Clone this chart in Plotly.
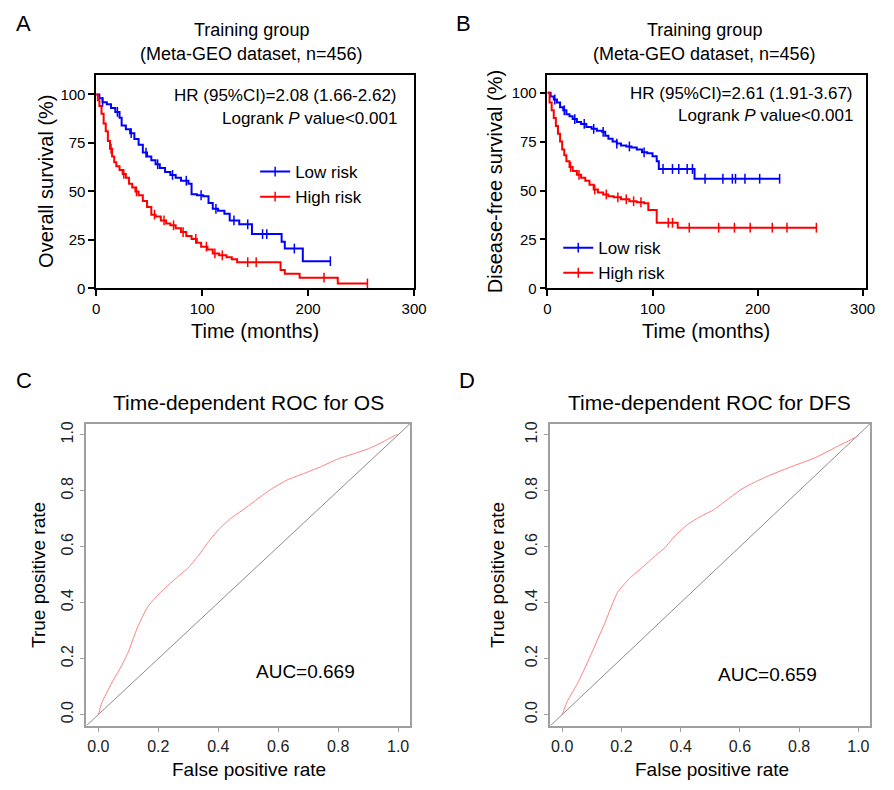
import numpy as np
import plotly.graph_objects as go

# ---------------- data ----------------
# Panel A: Overall survival (%), Meta-GEO training group
A_low_t = [0, 3, 6, 10, 14, 18, 22, 24, 28, 32, 36, 40, 44, 48, 52, 56, 60, 65, 70, 75, 80, 87, 90, 95, 101,
           106, 110, 115, 121, 126, 135, 147, 175, 178, 195, 221]
A_low_s = [100, 98, 96, 95, 93, 91, 88, 84, 82, 80, 77, 74, 70, 68, 66, 64, 62, 60, 58.5, 57, 55.5, 54, 48.5, 48, 47.5,
           44, 41, 40, 38.5, 35, 33, 28, 24, 20.5, 14, 14]
A_high_t = [0, 1.5, 3, 5, 7, 9, 11, 13, 15, 17, 19, 22, 25, 28, 31, 34, 37, 40, 44, 48, 52, 56, 61, 66, 70, 75,
            80, 85, 90, 95, 99, 105, 110, 116, 123, 128, 133, 174, 178, 192, 228, 256]
A_high_s = [100, 97, 94, 90, 85, 81, 76, 72, 68, 65, 63, 61, 59, 57, 54, 52, 50, 48, 45, 42, 38, 37, 35, 33.5, 32.5, 31,
            29, 27, 25.5, 23.5, 21.5, 20, 18, 17, 16, 15, 13.5, 9.5, 7.5, 5.5, 2.5, 2.5]
A_low_cens = [6, 20, 33, 47, 58, 72, 85, 99, 113, 130, 143, 157, 161, 187, 221]
A_high_cens = [14, 26, 38, 55, 64, 73, 82, 94, 104, 112, 119, 143, 151, 215, 256]

# Panel B: Disease-free survival (%)
B_low_t = [0, 3, 6, 9, 12, 15, 18, 21, 24, 28, 32, 37, 42, 47, 52, 55, 58, 62, 66, 70, 75, 80, 85, 90, 95, 100,
           104, 106, 140, 221]
B_low_s = [100, 98, 96.5, 95, 92.5, 91, 89, 88, 86.5, 85, 84, 82.5, 81.5, 80.5, 80, 78, 76.5, 75, 74, 73, 72.5, 72,
           71, 69.5, 69, 67.5, 65, 61, 56, 56]
B_high_t = [0, 2, 4, 6, 8, 10, 12, 14, 16, 18, 21, 24, 28, 32, 36, 40, 44, 48, 53, 58, 63, 70, 78, 85, 92, 96, 104,
            124, 256]
B_high_s = [100, 95, 91, 87, 83, 79, 75, 71, 68, 65, 62, 60, 58, 56.5, 55, 53, 50.5, 49, 48, 47, 46.5, 45.5, 44.5,
            44, 43.5, 40, 33.5, 31, 31]
B_low_cens = [7, 16, 26, 35, 44, 53, 66, 78, 92, 110, 119, 125, 133, 138, 150, 167, 176, 179, 188, 202, 221]
B_high_cens = [22, 30, 45, 56, 67, 75, 82, 89, 115, 119, 135, 163, 178, 193, 214, 228, 256]

# Panel C / D: time-dependent ROC
C_fpr = [0, 0.011, 0.044, 0.075, 0.098, 0.131, 0.164, 0.202, 0.262, 0.30, 0.335, 0.365, 0.40, 0.44, 0.48,
         0.52, 0.577, 0.633, 0.689, 0.74, 0.80, 0.86, 0.905, 0.95, 0.99, 1.0]
C_tpr = [0, 0.041, 0.112, 0.17, 0.219, 0.313, 0.384, 0.431, 0.49, 0.525, 0.57, 0.615, 0.66, 0.70, 0.73,
         0.762, 0.806, 0.84, 0.863, 0.885, 0.914, 0.935, 0.952, 0.975, 0.998, 1.0]
D_fpr = [0, 0.017, 0.055, 0.099, 0.143, 0.187, 0.226, 0.27, 0.314, 0.347, 0.38, 0.424, 0.469, 0.513, 0.557,
         0.612, 0.689, 0.766, 0.854, 0.93, 0.997, 1.0]
D_tpr = [0, 0.047, 0.118, 0.219, 0.325, 0.437, 0.485, 0.526, 0.567, 0.597, 0.638, 0.68, 0.709, 0.733, 0.768,
         0.81, 0.85, 0.883, 0.918, 0.959, 0.995, 1.0]
roc_diag = [-0.04, 1.04]

km_ticks = [0, 25, 50, 75, 100]
time_ticks = [0, 100, 200, 300]
roc_ticks = [0, 0.2, 0.4, 0.6, 0.8, 1.0]
roc_ticklabels = ["0.0", "0.2", "0.4", "0.6", "0.8", "1.0"]

# ---------------- layout helpers ----------------
W, H = 894, 790
FONT = "Liberation Sans, Arial, Helvetica, sans-serif"
BLUE = "#0000FF"
RED = "#FF0000"


def px(x):
    return x / W


def py(y):
    return 1 - y / H


def km_at(times, surv, ct):
    idx = np.searchsorted(np.asarray(times), np.asarray(ct), side="right") - 1
    return np.asarray(surv)[idx]


fig = go.Figure()


def add_km(t, s, cens, color, name, xa, ya, legend):
    fig.add_trace(go.Scatter(x=t, y=s, mode="lines", line=dict(color=color, width=2, shape="hv"),
                             xaxis=xa, yaxis=ya, showlegend=False, hoverinfo="skip", cliponaxis=False))
    fig.add_trace(go.Scatter(x=cens, y=km_at(t, s, cens), mode="markers",
                             marker=dict(symbol="line-ns", size=7, line=dict(color=color, width=1.5)),
                             xaxis=xa, yaxis=ya, showlegend=False, hoverinfo="skip", cliponaxis=False))
    fig.add_trace(go.Scatter(x=[None], y=[None], mode="lines+markers", name=name,
                             line=dict(color=color, width=2),
                             marker=dict(symbol="line-ns", size=7, line=dict(color=color, width=1.5)),
                             xaxis=xa, yaxis=ya, showlegend=True, legend=legend))


add_km(A_low_t, A_low_s, A_low_cens, BLUE, "Low risk", "x", "y", "legend")
add_km(A_high_t, A_high_s, A_high_cens, RED, "High risk", "x", "y", "legend")
add_km(B_low_t, B_low_s, B_low_cens, BLUE, "Low risk", "x2", "y2", "legend2")
add_km(B_high_t, B_high_s, B_high_cens, RED, "High risk", "x2", "y2", "legend2")

for fpr, tpr, xa, ya in [(C_fpr, C_tpr, "x3", "y3"), (D_fpr, D_tpr, "x4", "y4")]:
    fig.add_trace(go.Scatter(x=roc_diag, y=roc_diag, mode="lines", line=dict(color="#8c8c8c", width=1),
                             xaxis=xa, yaxis=ya, showlegend=False, hoverinfo="skip"))
    fig.add_trace(go.Scatter(x=fpr, y=tpr, mode="lines",
                             line=dict(color="#FF8080", width=1, shape="spline", smoothing=0.5),
                             xaxis=xa, yaxis=ya, showlegend=False, hoverinfo="skip"))

km_axis = dict(showline=True, linecolor="black", linewidth=1.5, mirror=True, ticks="outside", ticklen=6,
               tickwidth=1.5, tickcolor="black", showgrid=False, zeroline=False,
               tickfont=dict(family=FONT, size=15, color="black"))
roc_axis = dict(showline=True, linecolor="#a0a0a0", linewidth=1.5, mirror=True, ticks="outside", ticklen=5,
                tickwidth=1, tickcolor="#a0a0a0", showgrid=False, zeroline=False, range=[-0.04, 1.04],
                tickvals=roc_ticks, ticktext=roc_ticklabels,
                tickfont=dict(family=FONT, size=16, color="#222222"))

ykm_dom = [py(290), py(74)]
yroc_dom = [py(733), py(427)]

fig.update_layout(
    width=W, height=H, margin=dict(l=0, r=0, t=0, b=0),
    paper_bgcolor="white", plot_bgcolor="white",
    font=dict(family=FONT, color="black"),
    xaxis=dict(km_axis, domain=[px(94), px(418)], range=[0, 300], tickvals=time_ticks, anchor="y"),
    yaxis=dict(km_axis, domain=ykm_dom, range=[0, 110], tickvals=km_ticks, anchor="x"),
    xaxis2=dict(km_axis, domain=[px(554), px(879)], range=[0, 303.5], tickvals=time_ticks, anchor="y2"),
    yaxis2=dict(km_axis, domain=ykm_dom, range=[0, 109], tickvals=km_ticks, anchor="x2"),
    xaxis3=dict(roc_axis, domain=[px(84), px(414)], anchor="y3"),
    yaxis3=dict(roc_axis, domain=yroc_dom, anchor="x3", tickangle=-90),
    xaxis4=dict(roc_axis, domain=[px(557), px(883)], anchor="y4"),
    yaxis4=dict(roc_axis, domain=yroc_dom, anchor="x4", tickangle=-90),
    legend=dict(x=px(256), y=py(154), xanchor="left", yanchor="top", bgcolor="rgba(0,0,0,0)",
                font=dict(family=FONT, size=17), itemwidth=30, traceorder="normal", tracegroupgap=0),
    legend2=dict(x=px(565), y=py(231), xanchor="left", yanchor="top", bgcolor="rgba(0,0,0,0)",
                 font=dict(family=FONT, size=17), itemwidth=30, traceorder="normal"),
)


def ann(text, x, y, size, xanchor="center", angle=0, color="black"):
    fig.add_annotation(text=text, x=px(x), y=py(y), xref="paper", yref="paper", showarrow=False,
                       xanchor=xanchor, yanchor="middle", textangle=angle,
                       font=dict(family=FONT, size=size, color=color))


# panel letters
ann("A", 20, 22, 22)
ann("B", 468, 22, 22)
ann("C", 20, 383, 22)
ann("D", 472, 383, 22)

# KM titles
for cx in (252, 714):
    ann("Training group", cx, 28, 18)
    ann("(Meta-GEO dataset, n=456)", cx, 53, 18)

ann("HR (95%CI)=2.08 (1.66-2.62)", 403, 95, 17, xanchor="right")
ann("Logrank <i>P</i> value&lt;0.001", 403, 118, 17, xanchor="right")
ann("HR (95%CI)=2.61 (1.91-3.67)", 868, 93, 17, xanchor="right")
ann("Logrank <i>P</i> value&lt;0.001", 868, 115, 17, xanchor="right")

ann("Overall survival (%)", 43, 182, 20, angle=-90)
ann("Disease-free survival (%)", 500, 182, 20, angle=-90)
ann("Time (months)", 256, 333, 20)
ann("Time (months)", 716, 333, 20)

# ROC texts
ann("Time-dependent ROC for OS", 249, 406, 21)
ann("Time-dependent ROC for DFS", 719, 406, 21)
ann("AUC=0.669", 307, 678, 19)
ann("AUC=0.659", 778, 681, 19)
ann("True positive rate", 35, 580, 19, angle=-90)
ann("True positive rate", 503, 580, 19, angle=-90)
ann("False positive rate", 250, 777, 19)
ann("False positive rate", 722, 777, 19)

fig.write_html("out.html", config={"displayModeBar": False},
               post_script="document.body.style.margin='0px';document.body.style.overflow='hidden';")
